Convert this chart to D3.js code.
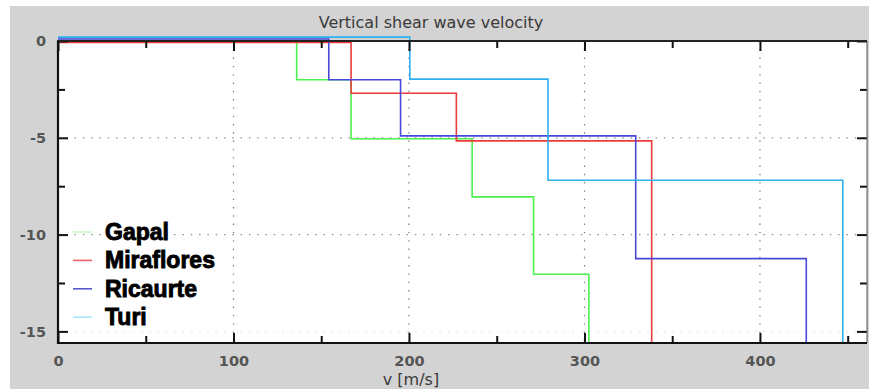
<!DOCTYPE html>
<meta charset="utf-8">
<script src="https://d3js.org/d3.v7.js"></script>
<style>
  body { margin: 0; background: #fff; }
  svg { display: block; }
</style>
<svg id="chart" width="869" height="389"></svg>

<script>
    // station names and colours
    var stations = ["Gapal", "Miraflores", "Ricaurte", "Turi"];
    var lineColors = ["#4cf04c", "#ee3a3a", "#4848dc", "#2cb0f0"];
    var legendColors = ["#c8f8c8", "#f06060", "#5858d0", "#a8e8f8"];

    // layer velocities [m/s] and depth of the top of each layer [m]
    var gapalV = [136, 167, 236, 271, 302.5];
    var gapalZ = [0, -2.0, -5.05, -8.05, -12.05];
    var mirafloresV = [167, 227, 338.3];
    var mirafloresZ = [-0.08, -2.7, -5.16];
    var ricaurteV = [154.3, 195.2, 329.2, 426.4];
    var ricaurteZ = [0.1, -2.0, -4.9, -11.24];
    var turiV = [200.5, 279.2, 447.2];
    var turiZ = [0.2, -1.97, -7.19];

    var velocities = [gapalV, mirafloresV, ricaurteV, turiV];
    var depths = [gapalZ, mirafloresZ, ricaurteZ, turiZ];

    var xMajor = [0, 100, 200, 300, 400];
    var xMinor = [50, 150, 250, 350, 450];
    var yMajor = [0, -5, -10, -15];
    var yMinor = [-2.5, -7.5, -12.5];

    var svg = d3.select("#chart");
    var W = 869, H = 389;

    var x = d3.scaleLinear().domain([0, 461]).range([58, 867]);
    var y = d3.scaleLinear().domain([-15.6, 0]).range([343, 41]);

    // figure background
    svg.append("rect").attr("x", 10).attr("y", 6).attr("width", W - 10).attr("height", H - 6)
        .attr("fill", "#d3d3d3");
    svg.append("rect").attr("x", x(0)).attr("y", y(0))
        .attr("width", x(461) - x(0)).attr("height", y(-15.6) - y(0))
        .attr("fill", "#fff");

    // grid
    var grid = svg.append("g");
    grid.selectAll(".vg").data(xMajor.slice(1)).enter().append("line")
        .attr("x1", d => x(d)).attr("x2", d => x(d))
        .attr("y1", y(0)).attr("y2", y(-15.6))
        .attr("stroke", "#7a7a7a").attr("stroke-width", 1.2)
        .attr("stroke-dasharray", "1.4,6.9");
    grid.selectAll(".hg").data(yMajor.slice(1)).enter().append("line")
        .attr("x1", x(0)).attr("x2", x(461))
        .attr("y1", d => y(d)).attr("y2", d => y(d))
        .attr("stroke", d => d === -15 ? "#e2e2e2" : "#8a8a8a").attr("stroke-width", 1.2)
        .attr("stroke-dasharray", "1.4,6.9");

    // velocity profiles
    var line = d3.line().x(d => x(d[0])).y(d => y(d[1]));
    stations.forEach(function (name, i) {
        var v = velocities[i], z = depths[i];
        var pts = [[0, z[0]]];
        v.forEach(function (vi, k) {
            var bottom = k + 1 < z.length ? z[k + 1] : -15.6;
            pts.push([vi, z[k]]);
            pts.push([vi, bottom]);
        });
        svg.append("path").attr("d", line(pts))
            .attr("fill", "none").attr("stroke", lineColors[i])
            .attr("stroke-width", 1.6);
    });

    // axes
    function styleAxis(g) {
        g.select(".domain").remove();
        g.selectAll(".tick line").attr("stroke", "#111").attr("stroke-width", 2);
        g.selectAll("text").attr("fill", "#555")
            .style("font-family", "DejaVu Sans").style("font-weight", "bold").style("font-size", "14.5px");
    }
    svg.append("g").attr("transform", "translate(0," + y(-15.6) + ")")
        .call(d3.axisBottom(x).tickValues(xMajor).tickSize(-10).tickPadding(13))
        .call(styleAxis);
    svg.append("g").attr("transform", "translate(0," + y(-15.6) + ")")
        .call(d3.axisBottom(x).tickValues(xMinor).tickSize(-7).tickFormat(""))
        .call(styleAxis);
    svg.append("g").attr("transform", "translate(0," + y(0) + ")")
        .call(d3.axisTop(x).tickValues(xMajor).tickSize(-10).tickFormat(""))
        .call(styleAxis);
    svg.append("g").attr("transform", "translate(0," + y(0) + ")")
        .call(d3.axisTop(x).tickValues(xMinor).tickSize(-7).tickFormat(""))
        .call(styleAxis);
    svg.append("g").attr("transform", "translate(" + x(0) + ",0)")
        .call(d3.axisLeft(y).tickValues(yMajor).tickSize(-10).tickPadding(12)
            .tickFormat(d => String(d)))
        .call(styleAxis);
    svg.append("g").attr("transform", "translate(" + x(0) + ",0)")
        .call(d3.axisLeft(y).tickValues(yMinor).tickSize(-7).tickFormat(""))
        .call(styleAxis);
    svg.append("g").attr("transform", "translate(" + x(461) + ",0)")
        .call(d3.axisRight(y).tickValues(yMajor).tickSize(-10).tickFormat(""))
        .call(styleAxis);
    svg.append("g").attr("transform", "translate(" + x(461) + ",0)")
        .call(d3.axisRight(y).tickValues(yMinor).tickSize(-7).tickFormat(""))
        .call(styleAxis);

    // frame
    svg.append("line").attr("x1", x(461)).attr("x2", x(461)).attr("y1", y(0)).attr("y2", y(-15.6))
        .attr("stroke", "#555").attr("stroke-width", 1);
    svg.append("line").attr("x1", x(0) - 1).attr("x2", x(461)).attr("y1", y(0)).attr("y2", y(0))
        .attr("stroke", "#222").attr("stroke-width", 2);
    svg.append("line").attr("x1", x(0) - 1).attr("x2", x(461)).attr("y1", y(-15.6)).attr("y2", y(-15.6))
        .attr("stroke", "#111").attr("stroke-width", 2.2);
    svg.append("line").attr("x1", x(0)).attr("x2", x(0)).attr("y1", y(0)).attr("y2", y(-15.6) + 1)
        .attr("stroke", "#111").attr("stroke-width", 2.2);

    // titles
    svg.append("text").attr("x", 431).attr("y", 28).attr("text-anchor", "middle")
        .style("font-family", "DejaVu Sans").style("font-size", "16px").attr("fill", "#3a3a3a")
        .text("Vertical shear wave velocity");
    svg.append("text").attr("x", 411).attr("y", 385).attr("text-anchor", "middle")
        .style("font-family", "DejaVu Sans").style("font-size", "16px").attr("fill", "#3a3a3a")
        .text("v [m/s]");

    // legend
    var legend = svg.append("g").attr("transform", "translate(73,240)");
    stations.forEach(function (name, i) {
        var gy = i * 28.4;
        legend.append("line").attr("x1", 0).attr("x2", 19).attr("y1", gy - 8).attr("y2", gy - 8)
            .attr("stroke", legendColors[i]).attr("stroke-width", 1.6);
        legend.append("text").attr("x", 32).attr("y", gy)
            .style("font-family", "Liberation Sans, Arial, sans-serif").style("font-weight", "bold")
            .style("font-size", "23px").attr("fill", "#000")
            .attr("stroke", "#000").attr("stroke-width", 0.9)
            .text(name);
    });
</script>
